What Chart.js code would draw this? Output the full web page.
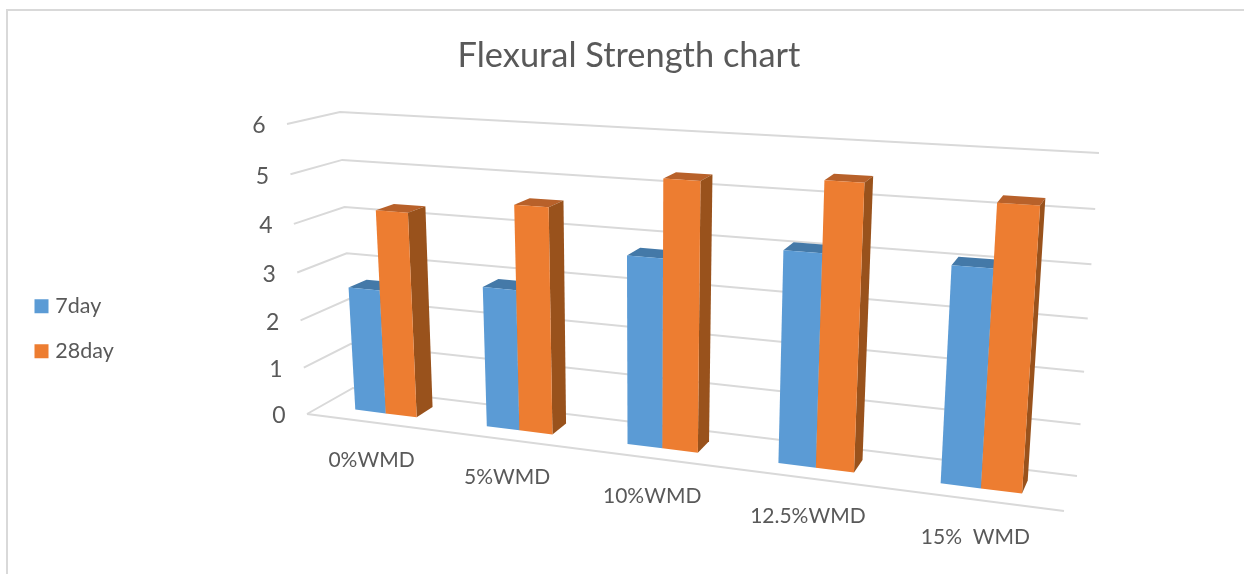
<!DOCTYPE html>
<html>
<head>
<meta charset="utf-8">
<title>Flexural Strength chart</title>
<script src="https://cdn.jsdelivr.net/npm/chart.js@4"></script>
<style>
  html, body { margin: 0; padding: 0; background: #fff; overflow: hidden; }
  #frame { position: absolute; left: 6px; top: 9px; width: 1300px; height: 600px; border: 2px solid #d9d9d9; }
  #chart { position: absolute; left: 0; top: 0; }
</style>
</head>
<body>
<div id="frame"></div>
<canvas id="chart" width="1243" height="574"></canvas>
<script>
const categories = ['0%WMD', '5%WMD', '10%WMD', '12.5%WMD', '15%  WMD'];
const day7 = [2.62, 2.89, 3.77, 4.11, 4.08];
const day28 = [4.27, 4.59, 5.29, 5.45, 5.25];

const gridColor = '#d9d9d9';
const textColor = '#595959';
const blue = { front: '#5b9bd5', top: '#4479a8', side: '#3f6f9c' };
const orange = { front: '#ed7d31', top: '#b8612a', side: '#99521c' };

// the box the 3D plot sits in, as seen on screen: front/back, left/right, value 0/max
const box = {
    fl0: [307, 414], fl1: [287, 124],
    fr0: [1064, 511], fr1: [1088, 171],
    bl0: [353, 388], bl1: [340, 112],
    br0: [1077, 476], br1: [1099, 153]
};
const barDepth = [0.33, 0.71];

const persp = (t, r) => t / (t + (1 - t) * r);
const mix = (a, b, t) => [a[0] + (b[0] - a[0]) * t, a[1] + (b[1] - a[1]) * t];

// u: along the categories, v: along the values, d: front to back (all 0..1)
function project(u, v, d) {
    const su = persp(u, 1.193);
    const sv = persp(v, 1.05);
    const front = mix(mix(box.fl0, box.fr0, su), mix(box.fl1, box.fr1, su), sv);
    const back = mix(mix(box.bl0, box.br0, su), mix(box.bl1, box.br1, su), sv);
    return mix(front, back, d);
}

function poly(ctx, pts, fill) {
    ctx.beginPath();
    pts.forEach((p, i) => i ? ctx.lineTo(p[0], p[1]) : ctx.moveTo(p[0], p[1]));
    ctx.closePath();
    ctx.fillStyle = fill;
    ctx.fill();
}

function line(ctx, pts) {
    ctx.beginPath();
    pts.forEach((p, i) => i ? ctx.lineTo(p[0], p[1]) : ctx.moveTo(p[0], p[1]));
    ctx.stroke();
}

const plot3d = {
    id: 'plot3d',
    beforeDatasetsDraw(chart) {
        const ctx = chart.ctx;
        const ca = chart.chartArea;
        const xs = chart.scales.x;
        const ys = chart.scales.y;
        const toU = px => (px - ca.left) / ca.width;
        const toV = px => (ca.bottom - px) / ca.height;

        ctx.save();
        ctx.strokeStyle = gridColor;
        ctx.lineWidth = 2;
        ctx.fillStyle = textColor;
        ctx.font = '23px Lato';
        ctx.textAlign = 'center';
        ctx.textBaseline = 'middle';

        // walls and value labels
        ys.ticks.forEach(t => {
            const v = toV(ys.getPixelForValue(t.value));
            const a = project(0, v, 0);
            line(ctx, [a, project(0, v, 1), project(1, v, 1)]);
            ctx.fillText(String(t.value), a[0] - 28, a[1] + 2);
        });
        line(ctx, [project(0, 0, 0), project(1, 0, 0)]);

        // category labels
        ctx.font = '21px Lato';
        categories.forEach((c, i) => {
            const p = project(toU(xs.getPixelForValue(i)), 0, 0);
            ctx.fillText(c, p[0], p[1] + 38);
        });

        // bars, left to right, blue then orange
        const [d0, d1] = barDepth;
        categories.forEach((c, i) => {
            [0, 1].forEach(n => {
                const bar = chart.getDatasetMeta(n).data[i];
                const col = n ? orange : blue;
                const u0 = toU(bar.x - bar.width / 2);
                const u1 = toU(bar.x + bar.width / 2);
                const v0 = toV(bar.base);
                const v1 = toV(bar.y);
                poly(ctx, [project(u0, v1, d0), project(u1, v1, d0), project(u1, v1, d1), project(u0, v1, d1)], col.top);
                poly(ctx, [project(u1, v0, d0), project(u1, v0, d1), project(u1, v1, d1), project(u1, v1, d0)], col.side);
                poly(ctx, [project(u0, v0, d0), project(u1, v0, d0), project(u1, v1, d0), project(u0, v1, d0)], col.front);
            });
        });
        ctx.restore();
        return false; // faces above replace the flat bars
    }
};

Chart.defaults.font.family = 'Lato';
Chart.defaults.color = textColor;

new Chart(document.getElementById('chart'), {
    type: 'bar',
    data: {
        labels: categories,
        datasets: [
            // borderWidth only shows on the legend swatch, it closes the gap to the text
            { label: '7day', data: day7, backgroundColor: blue.front, borderColor: blue.front, borderWidth: 8 },
            { label: '28day', data: day28, backgroundColor: orange.front, borderColor: orange.front, borderWidth: 8 }
        ]
    },
    options: {
        responsive: false,
        animation: false,
        categoryPercentage: 0.475,
        barPercentage: 1,
        layout: { padding: { left: 15 } },
        scales: {
            x: { display: false },
            y: { display: false, min: 0, max: 6, ticks: { stepSize: 1 } }
        },
        plugins: {
            title: {
                display: true,
                text: 'Flexural Strength chart',
                font: { size: 34.4, weight: 'normal' },
                color: textColor,
                padding: { top: 35, bottom: 7 }
            },
            legend: {
                position: 'left',
                fullSize: false,
                labels: { boxWidth: 6, boxHeight: 6, padding: 23.5, color: textColor, font: { size: 21.5 } }
            },
            tooltip: { enabled: false }
        }
    },
    plugins: [plot3d]
});
</script>
</body>
</html>
